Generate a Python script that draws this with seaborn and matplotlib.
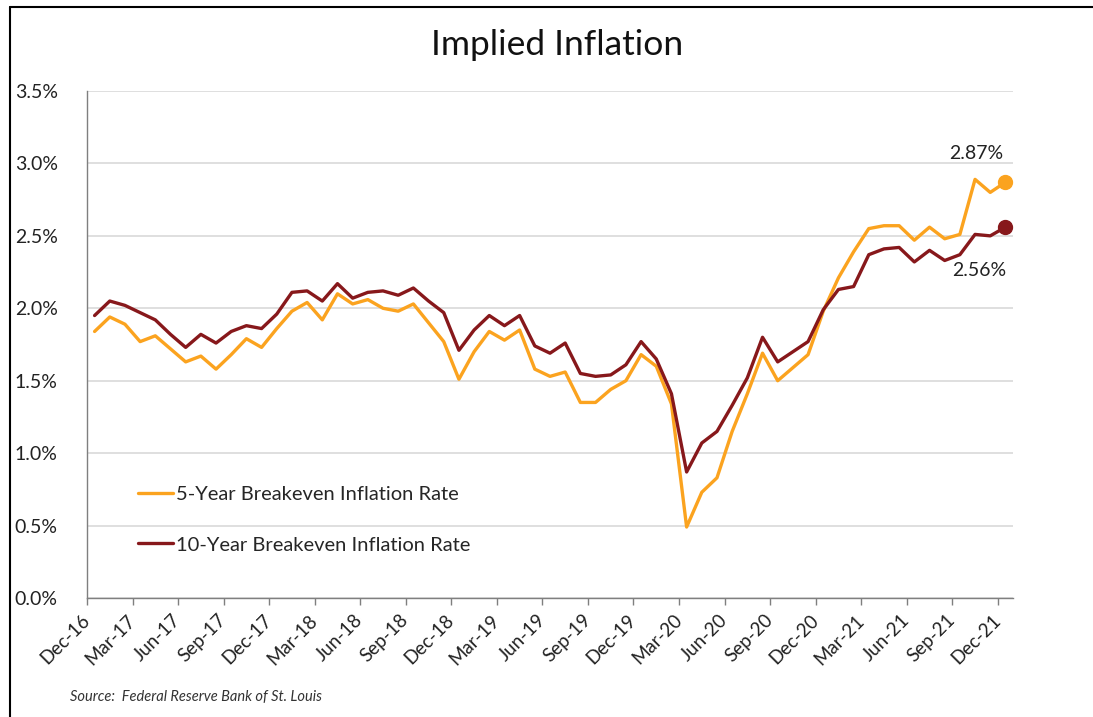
import numpy as np
import pandas as pd
import matplotlib
matplotlib.use("Agg")
import matplotlib.pyplot as plt
import seaborn as sns
from matplotlib.lines import Line2D

months = pd.date_range("2016-12-01", "2021-12-01", freq="MS").strftime("%b-%y").tolist()

five_year = [1.84, 1.94, 1.89, 1.77, 1.81, 1.72, 1.63, 1.67, 1.58, 1.68,
             1.79, 1.73, 1.86, 1.98, 2.04, 1.92, 2.10, 2.03, 2.06, 2.00,
             1.98, 2.03, 1.90, 1.77, 1.51, 1.70, 1.84, 1.78, 1.85, 1.58,
             1.53, 1.56, 1.35, 1.35, 1.44, 1.50, 1.68, 1.60, 1.34, 0.49,
             0.73, 0.83, 1.15, 1.41, 1.69, 1.50, 1.59, 1.68, 1.98, 2.21,
             2.39, 2.55, 2.57, 2.57, 2.47, 2.56, 2.48, 2.51, 2.89, 2.80, 2.87]

ten_year = [1.95, 2.05, 2.02, 1.97, 1.92, 1.82, 1.73, 1.82, 1.76, 1.84,
            1.88, 1.86, 1.96, 2.11, 2.12, 2.05, 2.17, 2.07, 2.11, 2.12,
            2.09, 2.14, 2.05, 1.97, 1.71, 1.85, 1.95, 1.88, 1.95, 1.74,
            1.69, 1.76, 1.55, 1.53, 1.54, 1.61, 1.77, 1.65, 1.41, 0.87,
            1.07, 1.15, 1.33, 1.52, 1.80, 1.63, 1.70, 1.77, 1.99, 2.13,
            2.15, 2.37, 2.41, 2.42, 2.32, 2.40, 2.33, 2.37, 2.51, 2.50, 2.56]

tick_labels = ["Dec-16", "Mar-17", "Jun-17", "Sep-17", "Dec-17", "Mar-18", "Jun-18",
               "Sep-18", "Dec-18", "Mar-19", "Jun-19", "Sep-19", "Dec-19", "Mar-20",
               "Jun-20", "Sep-20", "Dec-20", "Mar-21", "Jun-21", "Sep-21", "Dec-21"]

series_names = ["5-Year Breakeven Inflation Rate", "10-Year Breakeven Inflation Rate"]
colors = ["#FBA31F", "#87181B"]

df = pd.DataFrame({
    "idx": list(range(len(months))) * 2,
    "month": months * 2,
    "value": five_year + ten_year,
    "series": [series_names[0]] * len(months) + [series_names[1]] * len(months),
})

sns.set_theme(style="white")
plt.rcParams["font.family"] = ["Lato", "DejaVu Sans"]

fig = plt.figure(figsize=(10.93, 7.17), dpi=100)
ax = fig.add_axes([87 / 1093, 1 - 598 / 717, (1013 - 87) / 1093, (598 - 91) / 717])

sns.lineplot(data=df, x="idx", y="value", hue="series", palette=colors,
             linewidth=2.4, ax=ax, legend=False, sort=False)

# end markers
last = len(months) - 1
ax.plot([last], [five_year[-1]], "o", color=colors[0], markersize=10, zorder=5)
ax.plot([last], [ten_year[-1]], "o", color=colors[1], markersize=10, zorder=5)
ax.text(last - 1.9, five_year[-1] + 0.20, f"{five_year[-1]:.2f}%", ha="center", va="center",
        fontsize=14, color="#222222")
ax.text(last - 1.7, ten_year[-1] - 0.30, f"{ten_year[-1]:.2f}%", ha="center", va="center",
        fontsize=14, color="#222222")

ax.set_xlim(-0.5, len(months) - 0.5)
ax.set_ylim(0, 3.5)
ax.set_yticks(np.arange(0, 3.51, 0.5))
ax.set_yticklabels([f"{v:.1f}%" for v in np.arange(0, 3.51, 0.5)], fontsize=14, color="#222222")
ax.set_xticks(np.arange(-0.5, len(months), 3))
ax.set_xticklabels(tick_labels, rotation=45, ha="right", va="center", rotation_mode="anchor",
                   fontsize=13.5, color="#222222")
ax.tick_params(axis="x", bottom=True, length=5, width=1, color="#7f7f7f", pad=9)
ax.tick_params(axis="y", left=False, pad=15)
ax.set_xlabel("")
ax.set_ylabel("")

ax.grid(axis="y", color="#d9d9d9", linewidth=1.2)
ax.set_axisbelow(True)
for s in ["top", "right"]:
    ax.spines[s].set_visible(False)
for s in ["left", "bottom"]:
    ax.spines[s].set_color("#7f7f7f")
    ax.spines[s].set_linewidth(1)

handles = [Line2D([0], [0], color=c, linewidth=2.4) for c in colors]
ax.legend(handles, series_names, loc="lower left", bbox_to_anchor=(0.036, 0.052),
          frameon=False, fontsize=14.5, handlelength=1.7, handletextpad=0.15,
          labelspacing=1.65)

fig.text(557 / 1093, 1 - 45 / 717, "Implied Inflation", ha="center", va="center",
         fontsize=25.5, color="#111111")
fig.text(70 / 1093, 1 - 697 / 717, "Source:  Federal Reserve Bank of St. Louis",
         ha="left", va="center", fontsize=10.5, style="italic", color="#333333")

# outer frame (left and top edges visible)
fig.add_artist(Line2D([10 / 1093, 10 / 1093], [0, 1 - 7 / 717], color="black",
                      linewidth=1.5, transform=fig.transFigure))
fig.add_artist(Line2D([10 / 1093, 1], [1 - 7 / 717, 1 - 7 / 717], color="black",
                      linewidth=1.5, transform=fig.transFigure))

fig.savefig("out.png", dpi=100)
